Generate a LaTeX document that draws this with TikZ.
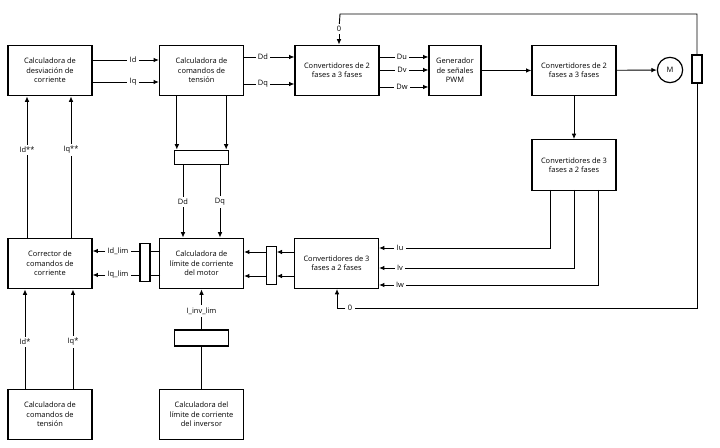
\documentclass[tikz,border=0pt]{standalone}
\usepackage{fontspec}
\setmainfont{Open Sans}
\usetikzlibrary{arrows.meta}

\tikzset{
  blk/.style={draw, line width=0.9pt, minimum width=63pt, minimum height=38pt, align=center, font=\fontsize{5.6}{7}\selectfont, inner sep=1pt},
  bar/.style={draw, line width=0.9pt, inner sep=0pt},
  lbl/.style={fill=white, inner sep=1.5pt, font=\fontsize{5.6}{7}\selectfont},
  arr/.style={-{Latex[length=4pt,width=3.5pt]}},
  every path/.style={line width=0.7pt}
}

\begin{document}
\begin{tikzpicture}[x=0.75pt,y=-0.75pt]
\useasboundingbox (0,0) rectangle (720,448);

% top row
\node[blk] (devi) at (50,70.5) {Calculadora de\\desviación de\\corriente};
\node[blk] (cmdT) at (201.5,70.5) {Calculadora de\\comandos de\\tensión};
\node[blk] (convA) at (337,70.5) {Convertidores de 2\\fases a 3 fases};
\node[blk, minimum width=39pt] (pwm) at (455,70.5) {Generador\\de señales\\PWM};
\node[blk] (convB) at (574,70.5) {Convertidores de 2\\fases a 3 fases};
\node[draw, circle, line width=0.9pt, minimum size=19pt, font=\fontsize{5.6}{7}\selectfont] (mot) at (670,70) {M};
\node[bar, minimum width=7.5pt, minimum height=21pt] (enc) at (697,69) {};
\node[blk] (convC) at (574,165) {Convertidores de 3\\fases a 2 fases};

% middle row
\node[bar, minimum width=40pt, minimum height=11pt] (mixA) at (201.5,157.5) {};
\node[blk] (corr) at (50,263.5) {Corrector de\\comandos de\\corriente};
\node[blk] (lim) at (201.5,263.5) {Calculadora de\\límite de corriente\\del motor};
\node[bar, minimum width=7.5pt, minimum height=28pt] (mixB) at (145,262.5) {};
\node[blk] (convD) at (336.5,263.5) {Convertidores de 3\\fases a 2 fases};
\node[bar, minimum width=7pt, minimum height=29pt] (mixC) at (271.5,265.5) {};

% bottom row
\node[bar, minimum width=40pt, minimum height=12pt] (mixD) at (201.5,338) {};
\node[blk] (vcmd) at (50,414.5) {Calculadora de\\comandos de\\tensión};
\node[blk] (inv) at (201.5,414.5) {Calculadora del\\límite de corriente\\del inversor};

% Id, Iq
\node[lbl] (lId) at (133,60) {Id};
\node[lbl] (lIq) at (133,82) {Iq};
\draw (devi.east |- lId) -- (lId); \draw[arr] (lId) -- (cmdT.west |- lId);
\draw (devi.east |- lIq) -- (lIq); \draw[arr] (lIq) -- (cmdT.west |- lIq);

% Dd, Dq
\node[lbl] (lDd) at (263,57) {Dd};
\node[lbl] (lDq) at (263,84) {Dq};
\draw (cmdT.east |- lDd) -- (lDd); \draw[arr] (lDd) -- (convA.west |- lDd);
\draw (cmdT.east |- lDq) -- (lDq); \draw[arr] (lDq) -- (convA.west |- lDq);

% Du, Dv, Dw
\foreach \n/\y in {Du/57,Dv/70,Dw/87}{
  \node[lbl] (l\n) at (402,\y) {\n};
  \draw (convA.east |- l\n) -- (l\n);
  \draw[arr] (l\n) -- (pwm.west |- l\n);
}

\draw[arr] (pwm) -- (convB);
\draw[arr] (convB) -- (mot);
\draw[arr] (convB) -- (convC);

% feedback to top converter
\node[lbl] (lZa) at (339,29) {0};
\draw (enc.north) |- (340,14) -- (lZa);
\draw[arr] (lZa) -- (convA.north -| lZa);

% Dd, Dq down
\draw[arr] ([xshift=-18.5]cmdT.south) -- ([xshift=-18.5]mixA.north);
\draw[arr] ([xshift=18.5]cmdT.south) -- ([xshift=18.5]mixA.north);
\node[lbl] (lDd2) at (183,202) {Dd};
\node[lbl] (lDq2) at (220,202) {Dq};
\draw (mixA.south -| lDd2) -- (lDd2); \draw[arr] (lDd2) -- (lim.north -| lDd2);
\draw (mixA.south -| lDq2) -- (lDq2); \draw[arr] (lDq2) -- (lim.north -| lDq2);

% Id**, Iq**
\node[lbl] (lIdd) at (27,150) {Id**};
\node[lbl] (lIqq) at (71,150) {Iq**};
\draw (corr.north -| lIdd) -- (lIdd); \draw[arr] (lIdd) -- (devi.south -| lIdd);
\draw (corr.north -| lIqq) -- (lIqq); \draw[arr] (lIqq) -- (devi.south -| lIqq);

% Iu, Iv, Iw
\foreach \n/\x/\y in {Iu/550/248,Iv/574/268,Iw/598/285}{
  \node[lbl] (l\n) at (400,\y) {\n};
  \coordinate (t\n) at (\x,190);
  \draw (t\n) |- (l\n);
  \draw[arr] (l\n) -- (convD.east |- l\n);
}

% feedback to bottom converter
\node[lbl] (lZb) at (350,308) {0};
\coordinate (cZb) at (337,289);
\draw (enc.south) |- (lZb);
\draw[arr] (lZb.west) -| (cZb);

% limit currents
\foreach \y in {252,276}{
  \coordinate (r\y) at (295,\y);
  \draw[arr] (r\y) -- (mixC.east |- r\y);
  \draw[arr] (mixC.west |- r\y) -- (lim.east |- r\y);
}
\foreach \y in {251,275}{
  \coordinate (m\y) at (160,\y);
  \draw (m\y) -- (mixB.east |- m\y);
}
\node[lbl] (lIdl) at (118,251) {Id\_lim};
\node[lbl] (lIql) at (118,275) {Iq\_lim};
\draw (mixB.west |- lIdl) -- (lIdl); \draw[arr] (lIdl) -- (corr.east |- lIdl);
\draw (mixB.west |- lIql) -- (lIql); \draw[arr] (lIql) -- (corr.east |- lIql);

% inverter limit
\node[lbl] (lInv) at (201.5,311) {I\_inv\_lim};
\draw (inv.north) -- (mixD.south);
\draw (mixD.north) -- (lInv);
\draw[arr] (lInv) -- (lim.south);

% Id*, Iq*
\node[lbl] (lId1) at (25,342) {Id*};
\node[lbl] (lIq1) at (73,342) {Iq*};
\draw (vcmd.north -| lId1) -- (lId1); \draw[arr] (lId1) -- (corr.south -| lId1);
\draw (vcmd.north -| lIq1) -- (lIq1); \draw[arr] (lIq1) -- (corr.south -| lIq1);
\end{tikzpicture}
\end{document}
